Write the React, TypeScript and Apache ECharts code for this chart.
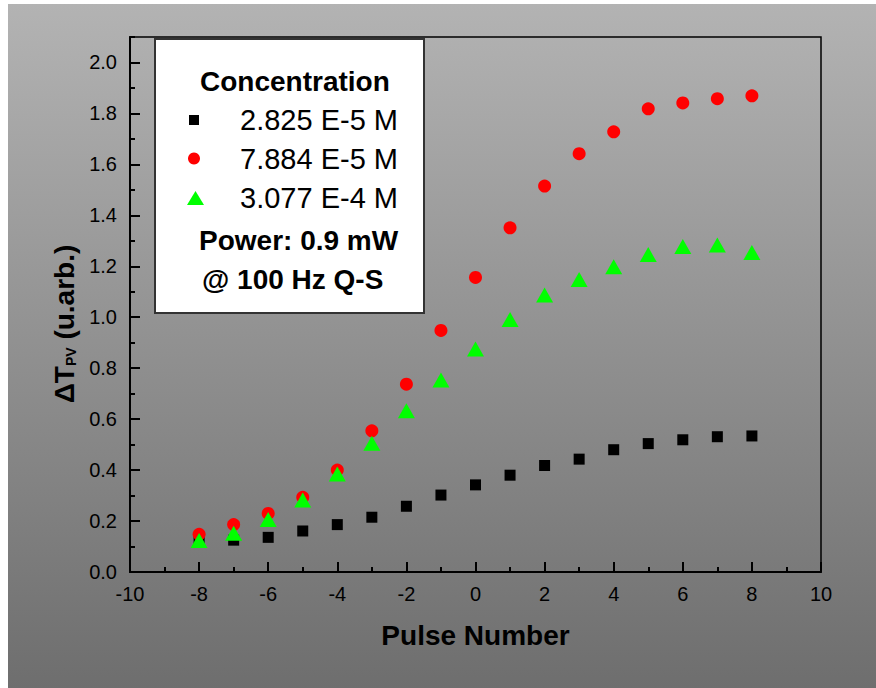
import React, { useEffect, useRef } from 'react';
import * as echarts from 'echarts';

const pulseNumbers = [-8, -7, -6, -5, -4, -3, -2, -1, 0, 1, 2, 3, 4, 5, 6, 7, 8];
const conc1Values = [0.12, 0.125, 0.136, 0.161, 0.186, 0.215, 0.258, 0.302, 0.342, 0.38, 0.418, 0.443, 0.48, 0.504, 0.519, 0.531, 0.534];
const conc2Values = [0.148, 0.186, 0.23, 0.293, 0.4, 0.554, 0.737, 0.948, 1.156, 1.351, 1.515, 1.642, 1.728, 1.818, 1.841, 1.858, 1.869];
const conc3Values = [0.124, 0.152, 0.206, 0.283, 0.385, 0.505, 0.633, 0.754, 0.875, 0.991, 1.087, 1.148, 1.198, 1.246, 1.278, 1.284, 1.254];
const seriesNames = ['2.825 E-5 M', '7.884 E-5 M', '3.077 E-4 M'];
const legendTitle = 'Concentration';
const noteLines = ['Power: 0.9 mW', '@ 100 Hz Q-S'];
const xAxisTitle = 'Pulse Number';

const FONT = '"Liberation Sans", Arial, Helvetica, sans-serif';

export default function App() {
  const ref = useRef<HTMLDivElement>(null);
  useEffect(() => {
    const chart = echarts.init(ref.current!, null, { renderer: 'svg' });
    const pair = (ys: number[]) => pulseNumbers.map((x, i) => [x, ys[i]]);
    const tickStyle = { color: '#000', width: 2 };
    chart.setOption({
      animation: false,
      textStyle: { fontFamily: FONT },
      grid: {
        left: 122, top: 33, width: 691, height: 535,
        show: true, borderColor: '#000', borderWidth: 1.5, backgroundColor: 'transparent',
      },
      xAxis: {
        type: 'value', min: -10, max: 10, interval: 2,
        name: xAxisTitle, nameLocation: 'middle', nameGap: 49,
        nameTextStyle: { fontSize: 28, fontWeight: 'bold', color: '#000', fontFamily: FONT },
        axisLine: { onZero: false, lineStyle: { color: '#000', width: 2 } },
        axisTick: { inside: true, length: 10, lineStyle: tickStyle },
        minorTick: { show: true, splitNumber: 2, length: 5, lineStyle: tickStyle },
        splitLine: { show: false },
        minorSplitLine: { show: false },
        axisLabel: { fontSize: 20, color: '#000', margin: 12, fontFamily: FONT },
      },
      yAxis: [
        {
          type: 'value', min: 0, max: 2.1, interval: 0.2,
          axisLine: { onZero: false, lineStyle: { color: '#000', width: 2 } },
          axisTick: { inside: true, length: 10, lineStyle: tickStyle },
          splitLine: { show: false },
          axisLabel: {
            fontSize: 20, color: '#000', margin: 13, fontFamily: FONT,
            showMaxLabel: false,
            formatter: (v: number) => (Math.abs(v - 2.1) < 1e-6 ? '' : v.toFixed(1)),
          },
        },
        {
          type: 'value', min: 0, max: 2.1, interval: 0.1, position: 'left',
          axisLine: { show: false, onZero: false },
          axisTick: { inside: true, length: 5, lineStyle: tickStyle },
          splitLine: { show: false },
          axisLabel: { show: false },
        },
      ],
      series: [
        { name: seriesNames[0], type: 'scatter', data: pair(conc1Values), symbol: 'rect', symbolSize: 11, itemStyle: { color: '#000000', opacity: 1 } },
        { name: seriesNames[1], type: 'scatter', data: pair(conc2Values), symbol: 'circle', symbolSize: 13, itemStyle: { color: '#ff0000', opacity: 1 } },
        { name: seriesNames[2], type: 'scatter', data: pair(conc3Values), symbol: 'triangle', symbolSize: [17, 15], itemStyle: { color: '#00ff00', opacity: 1 } },
      ],
      graphic: [
        {
          type: 'rect', z: -100, silent: true,
          shape: { x: 0, y: 0, width: 868, height: 684 },
          style: {
            fill: new echarts.graphic.LinearGradient(0, 0, 0, 1, [
              { offset: 0, color: '#b3b3b3' },
              { offset: 1, color: '#6e6e6e' },
            ]),
          },
        },
        {
          type: 'group', z: 50,
          children: [
            { type: 'rect', shape: { x: 147, y: 35, width: 269, height: 274 }, style: { fill: '#ffffff', stroke: '#333333', lineWidth: 2 } },
            { type: 'text', x: 192, y: 77, style: { text: legendTitle, fontSize: 28, fontWeight: 'bold', fontFamily: FONT, fill: '#000', align: 'left', verticalAlign: 'middle' } },
            { type: 'rect', shape: { x: 181, y: 111, width: 10, height: 10 }, style: { fill: '#000' } },
            { type: 'circle', shape: { cx: 186, cy: 154.5, r: 6 }, style: { fill: '#ff0000' } },
            { type: 'polygon', shape: { points: [[187.5, 187], [196, 201], [179, 201]] }, style: { fill: '#00ff00' } },
            { type: 'text', x: 232, y: 116, style: { text: seriesNames[0], fontSize: 29, fontFamily: FONT, fill: '#000', align: 'left', verticalAlign: 'middle' } },
            { type: 'text', x: 232, y: 154.5, style: { text: seriesNames[1], fontSize: 29, fontFamily: FONT, fill: '#000', align: 'left', verticalAlign: 'middle' } },
            { type: 'text', x: 232, y: 194, style: { text: seriesNames[2], fontSize: 29, fontFamily: FONT, fill: '#000', align: 'left', verticalAlign: 'middle' } },
            { type: 'text', x: 191, y: 236, style: { text: noteLines[0], fontSize: 28, fontWeight: 'bold', fontFamily: FONT, fill: '#000', align: 'left', verticalAlign: 'middle' } },
            { type: 'text', x: 194, y: 275.5, style: { text: noteLines[1], fontSize: 28, fontWeight: 'bold', fontFamily: FONT, fill: '#000', align: 'left', verticalAlign: 'middle' } },
          ],
        },
        {
          type: 'text', x: 56, y: 320, rotation: Math.PI / 2, z: 50,
          style: {
            text: '{m|ΔT}{s|PV}{m| (u.arb.)}',
            align: 'center', verticalAlign: 'middle',
            rich: {
              m: { fontSize: 28, fontWeight: 'bold', fontFamily: FONT, fill: '#000' },
              s: { fontSize: 14, fontWeight: 'bold', fontFamily: FONT, fill: '#000', verticalAlign: 'bottom' },
            },
          },
        },
      ],
    });
    return () => chart.dispose();
  }, []);
  return (
    <div
      ref={ref}
      style={{ position: 'absolute', left: 8, top: 4, width: 868, height: 684 }}
    />
  );
}
